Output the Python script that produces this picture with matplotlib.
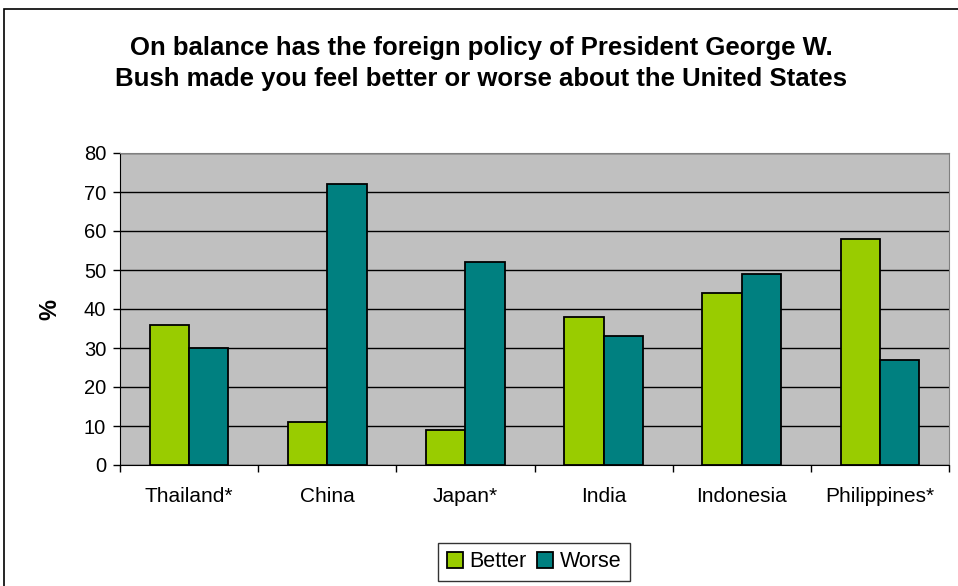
import numpy as np
import matplotlib.pyplot as plt
from matplotlib.patches import Rectangle

plt.rcParams["font.family"] = ["Liberation Sans", "DejaVu Sans"]

countries = ["Thailand*", "China", "Japan*", "India", "Indonesia", "Philippines*"]
better = [36, 11, 9, 38, 44, 58]
worse = [30, 72, 52, 33, 49, 27]

fig = plt.figure(figsize=(9.58, 5.86), dpi=100)
W, H = 958, 586
ax = fig.add_axes([120 / W, 1 - 465 / H, (949 - 120) / W, (465 - 153) / H])

# outer chart border
fig.patches.append(Rectangle((4 / W, -0.01), 1.0, 1 - 9 / H + 0.01, transform=fig.transFigure,
                             fill=False, edgecolor="black", linewidth=1.2))

x = np.arange(len(countries))
bw = 0.285
ax.bar(x - bw / 2, better, bw, color="#99CC00", edgecolor="black", linewidth=1.3, label="Better", zorder=3)
ax.bar(x + bw / 2, worse, bw, color="#008080", edgecolor="black", linewidth=1.3, label="Worse", zorder=3)

ax.set_facecolor("#C0C0C0")
ax.set_xlim(-0.5, len(countries) - 0.5)
ax.set_ylim(0, 80)
ax.set_yticks(range(0, 81, 10))
ax.yaxis.grid(True, color="black", linewidth=1)
ax.set_axisbelow(True)

ax.set_xticks(x)
ax.set_xticklabels(countries, fontsize=15)
ax.tick_params(axis="x", which="major", length=0, pad=16)
ax.set_xticks(np.arange(-0.5, len(countries)), minor=True)
ax.tick_params(axis="x", which="minor", length=5, width=1, direction="out")
ax.tick_params(axis="y", labelsize=14.5, length=5, width=1, direction="out", pad=5)

for s in ["top", "right"]:
    ax.spines[s].set_color("#808080")
for s in ["left", "bottom"]:
    ax.spines[s].set_color("black")

ax.set_ylabel("%", fontsize=17, fontweight="bold", labelpad=16)

fig.text(0.5 * (4 + 958) / W, 1 - 36 / H,
         "On balance has the foreign policy of President George W.\n"
         "Bush made you feel better or worse about the United States",
         ha="center", va="top", fontsize=18.5, fontweight="bold", linespacing=1.38)

leg = ax.legend(loc="upper center", bbox_to_anchor=(((438 + 630) / 2 - 120) / 829, -0.215),
                ncol=2, frameon=True, fancybox=False, fontsize=15.5, handlelength=0.75,
                handleheight=0.75, handletextpad=0.3, columnspacing=0.5, borderpad=0.4)
leg.get_frame().set_edgecolor("black")
leg.get_frame().set_linewidth(1)

fig.savefig("out.png", dpi=100)
